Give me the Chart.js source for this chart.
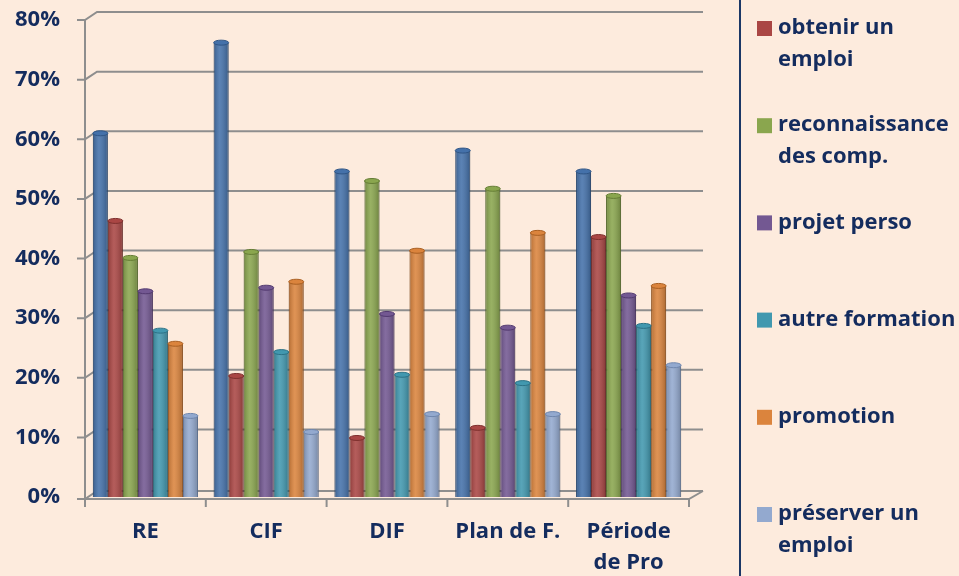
<!DOCTYPE html>
<html>
<head>
<meta charset="utf-8">
<script src="https://cdn.jsdelivr.net/npm/chart.js@4.4.1/dist/chart.umd.min.js"></script>
<style>
  html, body { margin: 0; padding: 0; background: #FDEBDD; }
  #wrap { width: 959px; height: 576px; position: relative; }
</style>
</head>
<body>
<div id="wrap"><canvas id="chartContainer"></canvas></div>
<script>
const categories = ['RE', 'CIF', 'DIF', 'Plan de F.', ['Période', 'de Pro']];
const yTicks = [0, 10, 20, 30, 40, 50, 60, 70, 80];

// first series has no visible legend entry in the source
const serie1 = [61, 76.2, 54.6, 58.1, 54.6];
const obtenirEmploi = [46.3, 20.3, 9.9, 11.6, 43.6];
const reconnaissance = [40.1, 41.1, 53, 51.7, 50.5];
const projetPerso = [34.5, 35.1, 30.7, 28.4, 33.8];
const autreFormation = [27.9, 24.3, 20.5, 19.1, 28.7];
const promotion = [25.7, 36.1, 41.3, 44.3, 35.4];
const preserverEmploi = [13.6, 10.9, 13.9, 13.9, 22.1];

const seriesNames = [['série 1'], ['obtenir un', 'emploi'], ['reconnaissance', 'des comp.'], ['projet perso'],
  ['autre formation'], ['promotion'], ['préserver un', 'emploi']];
const seriesValues = [serie1, obtenirEmploi, reconnaissance, projetPerso, autreFormation, promotion, preserverEmploi];
const colors = ['#4471AA', '#AA4644', '#8AA64E', '#735892', '#4198AF', '#DB843D', '#93A9CF'];
const edge = ['#2F5585', '#7E302E', '#657D35', '#52396F', '#2C7286', '#A95F22', '#6F86AD'];

const navy = '#142C5E';
const fontFam = '"Open Sans", Lato, sans-serif';

// fake 3d walls/grid like the excel chart
const wallPlugin = {
  id: 'wall',
  beforeDatasetsDraw(chart) {
    const c = chart.ctx, a = chart.chartArea, y = chart.scales.y;
    const dx = 12, dy = 8;
    c.save();
    c.strokeStyle = '#8E8E8E';
    c.lineWidth = 2;
    yTicks.forEach(v => {
      const py = y.getPixelForValue(v) + (v === 0 ? 2 : 0);
      c.beginPath();
      c.moveTo(a.left - 8, py);
      c.lineTo(a.left, py);
      c.lineTo(a.left + dx, py - dy);
      c.lineTo(a.right + 14, py - dy);
      c.stroke();
    });
    const y0 = y.getPixelForValue(0) + 2;
    c.beginPath();
    c.moveTo(a.left, y0);
    c.lineTo(a.left, y.getPixelForValue(80));
    c.moveTo(a.left, y0);
    c.lineTo(a.right, y0);
    c.lineTo(a.right + 14, y0 - dy);
    c.stroke();
    const n = categories.length;
    for (let i = 0; i <= n; i++) {
      const bx = a.left + i * (a.right - a.left) / n;
      c.beginPath();
      c.moveTo(bx, y0);
      c.lineTo(bx, y0 + 8);
      c.stroke();
    }
    c.restore();
  }
};

// cylinder-ish shading on the bars
const shadePlugin = {
  id: 'shade',
  afterDatasetsDraw(chart) {
    const c = chart.ctx;
    chart.data.datasets.forEach((ds, di) => {
      chart.getDatasetMeta(di).data.forEach(el => {
        const p = el.getProps(['x', 'y', 'base', 'width'], true);
        const l = p.x - p.width / 2, r = p.x + p.width / 2;
        const g = c.createLinearGradient(l, 0, r, 0);
        g.addColorStop(0, 'rgba(0,0,0,0.18)');
        g.addColorStop(0.4, 'rgba(255,255,255,0.12)');
        g.addColorStop(1, 'rgba(0,0,0,0.22)');
        c.save();
        c.fillStyle = g;
        c.fillRect(l, p.y, p.width, p.base - p.y);
        c.beginPath();
        c.ellipse(p.x, p.y, p.width / 2, 2.5, 0, 0, Math.PI * 2);
        c.fillStyle = ds.backgroundColor;
        c.fill();
        c.strokeStyle = ds.borderColor;
        c.lineWidth = 1;
        c.stroke();
        c.restore();
      });
    });
  }
};

const legendPlugin = {
  id: 'sideLegend',
  afterDraw(chart) {
    const c = chart.ctx;
    c.save();
    c.strokeStyle = '#1B3766';
    c.lineWidth = 2;
    c.beginPath();
    c.moveTo(740, 0);
    c.lineTo(740, chart.height);
    c.stroke();
    c.font = 'bold 22px ' + fontFam;
    c.textBaseline = 'middle';
    let row = 0;
    chart.data.datasets.forEach((ds, di) => {
      if (di === 0) return;
      const ty = 28 + row * 97.2;
      c.fillStyle = ds.backgroundColor;
      c.fillRect(757, ty - 7, 15, 15);
      c.fillStyle = navy;
      seriesNames[di].forEach((t, k) => c.fillText(t, 778, ty + k * 32));
      row++;
    });
    c.restore();
  }
};

const ctx = document.getElementById('chartContainer').getContext('2d');
const chart = new Chart(ctx, {
  type: 'bar',
  data: {
    labels: categories,
    datasets: seriesValues.map((vals, i) => ({
      label: seriesNames[i].join(' '),
      data: vals,
      backgroundColor: colors[i],
      borderColor: edge[i],
      borderWidth: 1,
      categoryPercentage: 0.87,
      barPercentage: 1.0
    }))
  },
  options: {
    responsive: true,
    maintainAspectRatio: false,
    animation: false,
    layout: { padding: { top: 20, right: 270, left: 0, bottom: 0 } },
    plugins: { legend: { display: false }, tooltip: { enabled: false } },
    scales: {
      x: {
        grid: { display: false, drawTicks: false },
        border: { display: false },
        ticks: { color: navy, font: { family: fontFam, size: 22, weight: 'bold', lineHeight: 1.42 }, padding: 19, maxRotation: 0 },
        afterFit(s) { s.height = 79; s.paddingLeft = 0; s.paddingRight = 0; }
      },
      y: {
        min: 0, max: 80,
        grid: { display: false, drawTicks: false },
        border: { display: false },
        ticks: { stepSize: 10, color: navy, padding: 25, font: { family: fontFam, size: 22, weight: 'bold' }, callback: v => v + '%' },
        afterFit(s) { s.width = 85; s.paddingTop = 0; s.paddingBottom = 0; }
      }
    }
  },
  plugins: [wallPlugin, shadePlugin, legendPlugin]
});
</script>
</body>
</html>
